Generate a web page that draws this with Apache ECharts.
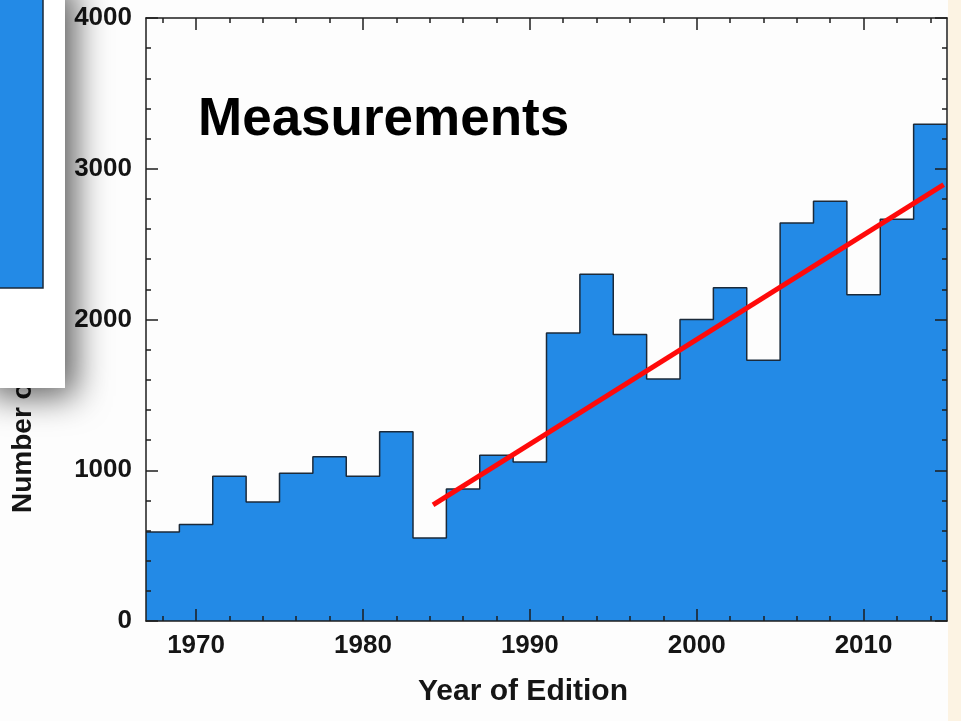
<!DOCTYPE html>
<html>
<head>
<meta charset="utf-8">
<script src="https://cdn.jsdelivr.net/npm/echarts@6/dist/echarts.min.js"></script>
<style>
html,body{margin:0;padding:0;background:#fdfdfd;}
#chart{width:961px;height:721px;}
</style>
</head>
<body>
<div id="chart"></div>
<script>
// ---- data ----
const binStart = [1967, 1969, 1971, 1973, 1975, 1977, 1979, 1981, 1983, 1985, 1987, 1989,
                  1991, 1993, 1995, 1997, 1999, 2001, 2003, 2005, 2007, 2009, 2011, 2013];
const binEnd = 2015;
const counts = [590, 640, 960, 790, 980, 1090, 960, 1255, 550, 875, 1100, 1055,
                1910, 2300, 1900, 1605, 2000, 2210, 1730, 2640, 2785, 2165, 2665, 3295];
const fitYears = [1984.2, 2014.8];
const fitValues = [770, 2895];
const xMajorTicks = [1970, 1980, 1990, 2000, 2010];
const xMinorTicks = [1968, 1970, 1972, 1974, 1976, 1978, 1980, 1982, 1984, 1986, 1988, 1990,
                     1992, 1994, 1996, 1998, 2000, 2002, 2004, 2006, 2008, 2010, 2012, 2014];
const yMajorTicks = [0, 1000, 2000, 3000, 4000];
const yMinorTicks = [200, 400, 600, 800, 1200, 1400, 1600, 1800, 2200, 2400, 2600, 2800,
                     3200, 3400, 3600, 3800];
const xTitle = 'Year of Edition';
const yTitle = 'Number of Measurements';
const annotation = 'Measurements';

const stepData = binStart.map((x, i) => [x, counts[i]]);
stepData.push([binEnd, counts[counts.length - 1]]);
const fitData = fitYears.map((x, i) => [x, fitValues[i]]);

const FONT = '"Liberation Sans", Arial, Helvetica, sans-serif';
const AX = '#1e1e1e';
const BLUE = '#238ae6';
const plain = v => String(v);

function xAxisDef(pos, ticks, len, withLine, withLabel) {
  return {
    type: 'value', position: pos, min: 1967, max: 2015, z: 5,
    axisLine: { show: withLine, onZero: false, lineStyle: { color: AX, width: 1.5 } },
    axisTick: { show: true, inside: true, length: len, customValues: ticks,
                lineStyle: { color: AX, width: 1.5 } },
    axisLabel: withLabel ? { show: true, customValues: ticks, margin: 12, formatter: plain,
                fontFamily: FONT, fontWeight: 'bold', fontSize: 26, color: '#151515' }
               : { show: false },
    splitLine: { show: false }
  };
}
function yAxisDef(pos, ticks, len, withLine, withLabel) {
  return {
    type: 'value', position: pos, min: 0, max: 4000, z: 5,
    axisLine: { show: withLine, onZero: false, lineStyle: { color: AX, width: 1.5 } },
    axisTick: { show: true, inside: true, length: len, customValues: ticks,
                lineStyle: { color: AX, width: 1.5 } },
    axisLabel: withLabel ? { show: true, customValues: ticks, margin: 14, formatter: plain,
                fontFamily: FONT, fontWeight: 'bold', fontSize: 26, color: '#151515' }
               : { show: false },
    splitLine: { show: false }
  };
}

const chart = echarts.init(document.getElementById('chart'), null, { renderer: 'canvas' });
chart.setOption({
  backgroundColor: '#fdfdfd',
  animation: false,
  grid: { left: 146, top: 18, width: 801, height: 603, containLabel: false },
  xAxis: [
    xAxisDef('bottom', xMajorTicks, 12, true, true),
    xAxisDef('bottom', xMinorTicks, 5, false, false),
    xAxisDef('top', xMajorTicks, 12, true, false),
    xAxisDef('top', xMinorTicks, 5, false, false)
  ],
  yAxis: [
    yAxisDef('left', yMajorTicks, 12, true, true),
    yAxisDef('left', yMinorTicks, 5, false, false),
    yAxisDef('right', yMajorTicks, 12, true, false),
    yAxisDef('right', yMinorTicks, 5, false, false)
  ],
  series: [
    {
      type: 'line', step: 'end', data: stepData, symbol: 'none', z: 2,
      xAxisIndex: 0, yAxisIndex: 0,
      lineStyle: { color: '#1b2a3a', width: 1.5 },
      areaStyle: { color: BLUE, opacity: 1 }
    },
    {
      type: 'line', data: fitData, symbol: 'none', z: 6,
      xAxisIndex: 0, yAxisIndex: 0,
      lineStyle: { color: '#ff0a0a', width: 5 }
    }
  ],
  graphic: [
    // annotation text
    { type: 'text', left: 198, top: 94, z: 20,
      style: { text: annotation, fontFamily: FONT, fontWeight: 'bold', fontSize: 53, fill: '#000' } },
    // x axis title
    { type: 'text', x: 523, y: 692, z: 20,
      style: { text: xTitle, fontFamily: FONT, fontWeight: 'bold', fontSize: 30, fill: '#151515',
               align: 'center', verticalAlign: 'middle' } },
    // y axis title (partly hidden by the overlapping panel)
    { type: 'text', x: 23.5, y: 513, rotation: Math.PI / 2, z: 20,
      style: { text: yTitle, fontFamily: FONT, fontWeight: 'bold', fontSize: 28, fill: '#151515',
               align: 'left', verticalAlign: 'middle' } },
    // right beige strip
    { type: 'rect', z: 1, shape: { x: 948, y: 0, width: 20, height: 721 },
      style: { fill: '#fcf3e3' } },
    // overlapping panel (another window) in the top-left
    { type: 'group', z: 100, children: [
      { type: 'rect', z: 100, shape: { x: -20, y: -20, width: 85, height: 408 },
        style: { fill: '#ffffff', shadowBlur: 34, shadowColor: 'rgba(0,0,0,0.65)',
                 shadowOffsetX: 10, shadowOffsetY: 8 } },
      { type: 'rect', z: 101, shape: { x: -10, y: -10, width: 53, height: 298 },
        style: { fill: BLUE, stroke: '#1b2a3a', lineWidth: 1.5 } },
      { type: 'group', z: 102, children: [20, 44.3, 69, 93.3, 117.7, 142.3, 191, 215.3, 239.3, 264].map(y => ({
          type: 'line', shape: { x1: 43, y1: y, x2: 38, y2: y }, style: { stroke: '#1b2a3a', lineWidth: 1.5 } }))
        .concat([
          { type: 'line', shape: { x1: 43, y1: 165.7, x2: 29, y2: 165.7 }, style: { stroke: '#1b2a3a', lineWidth: 1.5 } },
          { type: 'line', shape: { x1: 26, y1: 288, x2: 26, y2: 283 }, style: { stroke: '#1b2a3a', lineWidth: 1.5 } }
        ]) }
    ] }
  ]
});
</script>
</body>
</html>
